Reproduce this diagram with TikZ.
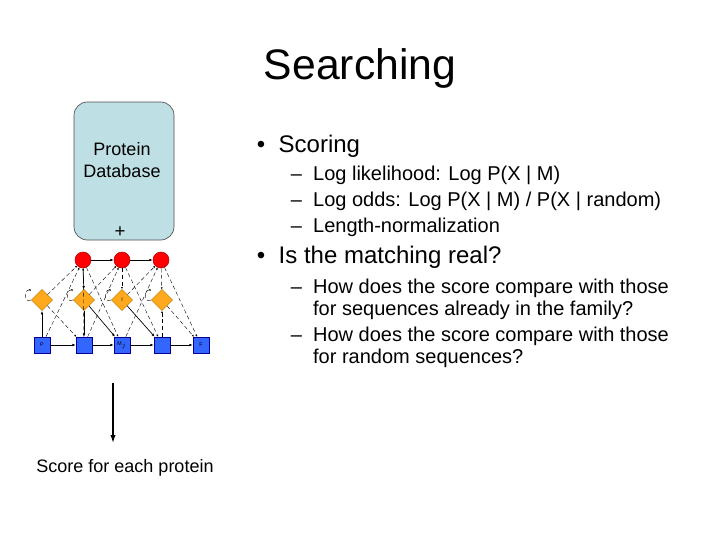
\documentclass[tikz,border=0pt]{standalone}
\usepackage{fontspec}
\setmainfont{Liberation Sans}
\usetikzlibrary{shapes.geometric,arrows.meta}
\definecolor{dbblue}{RGB}{190,224,228}
\definecolor{hmmblue}{RGB}{51,102,255}
\definecolor{hmmorange}{RGB}{255,170,30}
\tikzset{every picture/.style={line width=0.75pt}}
\tikzset{
  delstate/.style={circle,fill=red,draw=red!70!black,line width=0.4pt,minimum size=12pt,inner sep=0pt},
  insstate/.style={diamond,fill=hmmorange,draw=hmmorange!80!black,line width=0.4pt,minimum size=16pt,inner sep=0pt},
  matstate/.style={rectangle,fill=hmmblue,draw=blue!60!black,line width=0.4pt,minimum size=12pt,inner sep=0pt,font=\fontsize{4}{4}\selectfont},
  solidedge/.style={-{Latex[length=2.5pt,width=2pt]},line width=0.5pt},
  dotedge/.style={-{Latex[length=1.5pt,width=1.5pt]},densely dashed,line width=0.3pt}
}
\begin{document}
\begin{tikzpicture}[x=0.75pt,y=0.75pt,yscale=-1,xscale=1]
\useasboundingbox (0,0) rectangle (720,540);

% Title
\node (title) at (360,68) {\fontsize{32}{36}\selectfont Searching};

% Database box
\draw [fill=dbblue,draw=black!70,rounded corners=10pt,line width=0.5pt] (74,102) rectangle (174,240);
\node (db) [align=center,font=\fontsize{13.5}{16}\selectfont] at (122,160) {Protein\\Database};
\node (plus) at (120,232) {\fontsize{14}{16}\selectfont +};

% HMM states
\node (d1) [delstate] at (83,260) {};
\node (d2) [delstate] at (122,260) {};
\node (d3) [delstate] at (161,260) {};
\node (i0) [insstate] at (42,300) {};
\node (i1) [insstate] at (84,300) {};
\node (i2) [insstate] at (122,300) {\fontsize{4}{4}\selectfont I};
\node (i3) [insstate] at (162,300) {};
\node (m0) [matstate] at (42,345) {P};
\node (m1) [matstate] at (84,345) {};
\node (m2) [matstate] at (122,345) {M$_j$};
\node (m3) [matstate] at (162,345) {};
\node (m4) [matstate] at (201,345) {F};

% solid transitions
\draw [solidedge] (m0) -- (m1);
\draw [solidedge] (m1) -- (m2);
\draw [solidedge] (m2) -- (m3);
\draw [solidedge] (m3) -- (m4);
\draw [solidedge] (d1) -- (d2);
\draw [solidedge] (d2) -- (d3);
\draw [solidedge] (m0) -- (i0);
\draw [solidedge] (d1) -- (i1);
\draw [solidedge] (i1) -- (m1);
\draw [solidedge] (i1) -- (m2);
\draw [solidedge] (i2) -- (m3);

% dashed transitions
\draw [dotedge] (i0) -- (d1);
\draw [dotedge] (i0) -- (m1);
\draw [dotedge] (m0) -- (d1);
\draw [dotedge] (d1) -- (m2);
\draw [dotedge] (m1) -- (d2);
\draw [dotedge] (i1) -- (d2);
\draw [dotedge] (d2) -- (m3);
\draw [dotedge] (d2) -- (i2);
\draw [dotedge] (m2) -- (d3);
\draw [dotedge] (i2) -- (d3);
\draw [dotedge] (d3) -- (m4);
\draw [dotedge] (d3) -- (i3);
\draw [dotedge] (m3) -- (i3);
\draw [dotedge] (i3) -- (m4);
\draw [dotedge] (m1) -- (d1);
\foreach \s in {i0,i1,i2,i3}
  \draw [dotedge] (\s.west) arc (60:300:3pt and 4pt);

% Output arrow
\coordinate (arrtop) at (113,383);
\node (score) [font=\fontsize{13.5}{16}\selectfont] at (125,468) {Score for each protein};
\draw [-{Latex[length=6pt,width=4pt]},line width=1pt] (arrtop) -- (113,443);

% Bullets
\node (b1) [anchor=west,font=\fontsize{18}{22}\selectfont] at (252,146) {\textbullet\ \ Scoring};
\node (s1) [anchor=west,font=\fontsize{15}{18}\selectfont] at (286,175) {–\ \ Log likelihood: Log P(X | M)};
\node (s2) [anchor=west,font=\fontsize{15}{18}\selectfont] at (286,201) {–\ \ Log odds: Log P(X | M) / P(X | random)};
\node (s3) [anchor=west,font=\fontsize{15}{18}\selectfont] at (286,227) {–\ \ Length-normalization};
\node (b2) [anchor=west,font=\fontsize{18}{22}\selectfont] at (252,257) {\textbullet\ \ Is the matching real?};
\node (s4) [anchor=north west,align=left,font=\fontsize{15}{16.5}\selectfont] at (286,274) {–\ \ How does the score compare with those\\\phantom{–\ \ }for sequences already in the family?};
\node (s5) [anchor=north west,align=left,font=\fontsize{15}{16.5}\selectfont] at (286,322) {–\ \ How does the score compare with those\\\phantom{–\ \ }for random sequences?};
\end{tikzpicture}
\end{document}
